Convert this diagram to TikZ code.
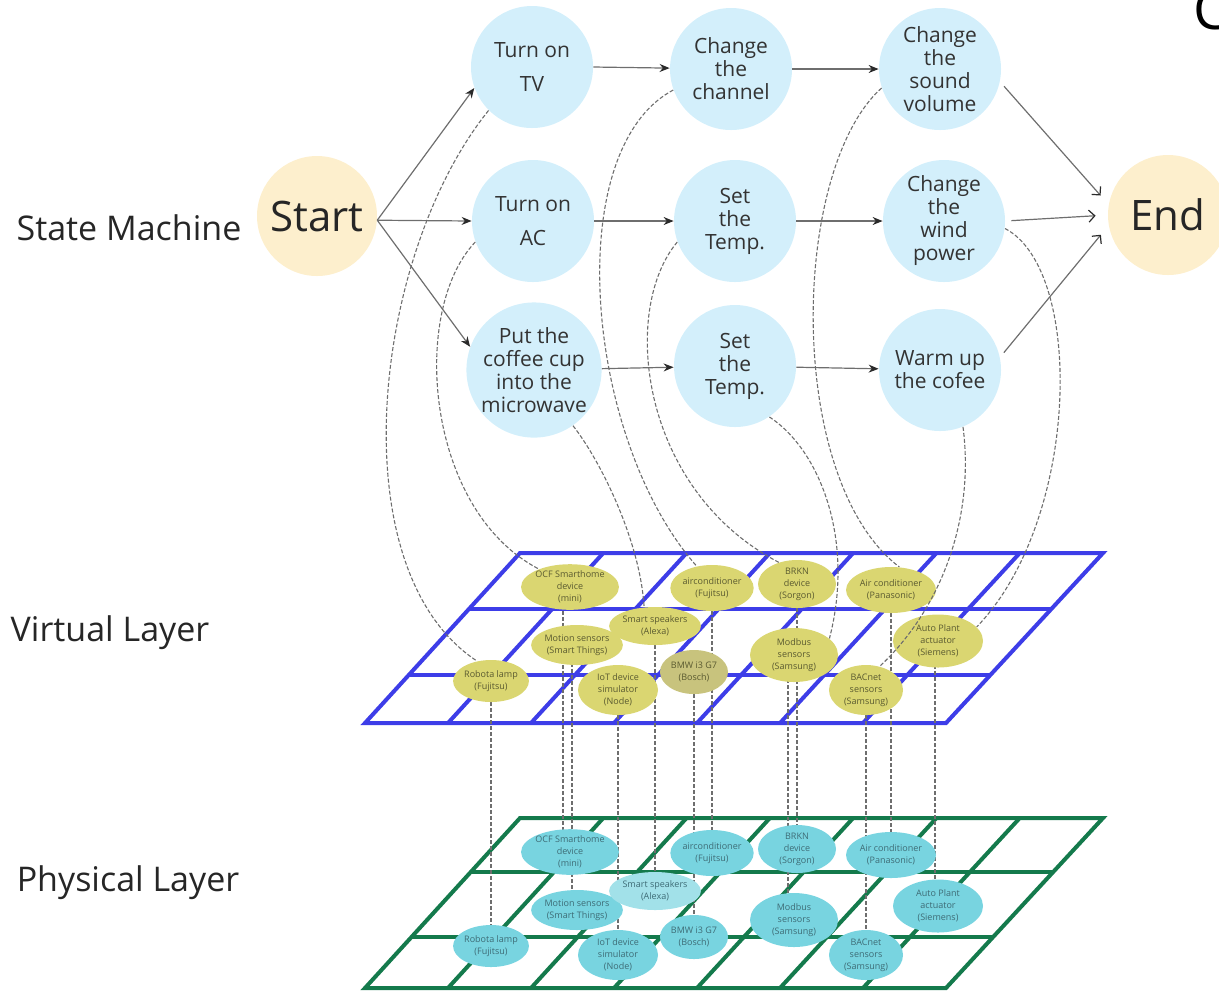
\documentclass[tikz,border=0pt]{standalone}
\usepackage{fontspec}
\setmainfont{Open Sans}
\usetikzlibrary{shapes.geometric,arrows.meta}
\pgfdeclarelayer{gridlayer}
\pgfdeclarelayer{linklayer}
\pgfsetlayers{gridlayer,linklayer,main}
\definecolor{stateblue}{HTML}{D3EFFB}
\definecolor{peach}{HTML}{FDEFCD}
\definecolor{vfill}{HTML}{DAD671}
\definecolor{vfillB}{HTML}{C8C37D}
\definecolor{pfill}{HTML}{78D4E0}
\definecolor{pfillL}{HTML}{A2E1E9}
\definecolor{vgrid}{HTML}{3D3DE8}
\definecolor{pgrid}{HTML}{147A4C}
\definecolor{linkgray}{HTML}{6E6E6E}
\definecolor{tipdark}{HTML}{2A2A2A}
\definecolor{vtext}{HTML}{5A5A30}
\definecolor{ptext}{HTML}{3E6C76}
\begin{document}
\begin{tikzpicture}[x=0.5pt,y=-0.5pt,
  state/.style={circle, fill=stateblue, minimum size=61pt, inner sep=0pt, align=center,
    font=\fontsize{10.5}{11.5}\selectfont, text=black!80},
  term/.style={circle, fill=peach, minimum size=60pt, inner sep=0pt, text=black!85,
    font=\fontsize{21}{24}\selectfont},
  dev/.style={ellipse, inner sep=0pt, align=center, font=\fontsize{4.5}{6}\selectfont},
  vdev/.style={dev, fill=vfill, text=vtext},
  pdev/.style={dev, fill=pfill, text=ptext},
  flow/.style={draw=linkgray, line width=0.6pt, -{Stealth[length=5pt,width=4pt,color=tipdark]}},
  toend/.style={draw=linkgray, line width=0.6pt, -{Straight Barb[length=3pt,width=6pt,color=tipdark]},
    shorten >=6pt, shorten <=3pt},
  link/.style={draw=linkgray, line width=0.55pt, dash pattern=on 2pt off 1pt},
  vgridline/.style={draw=vgrid, line width=2pt, line join=miter},
  pgridline/.style={draw=pgrid, line width=2pt, line join=miter},
  layerlabel/.style={font=\fontsize{17}{20}\selectfont, text=black!85}
]
\useasboundingbox (0,0) rectangle (1219,993);

% ---------- layer labels ----------
\node[layerlabel] (lsm) at (129,228) {State Machine};
\node[layerlabel] (lvl) at (110,633) {Virtual Layer};
\node[layerlabel] (lpl) at (128,883) {Physical Layer};
\node[font=\fontsize{28}{30}\selectfont, anchor=base west, inner sep=0pt] (cut) at (1193,29) {C};

% ---------- state machine ----------
\node[term] (start) at (317,216) {Start};
\node[term] (fin) at (1168,215) {End};
\node[state, font=\fontsize{10.5}{17}\selectfont] (tv) at (532,67) {Turn on\\TV};
\node[state] (ch) at (731,69) {Change\\the\\channel};
\node[state] (snd) at (940,69) {Change\\the\\sound\\volume};
\node[state, font=\fontsize{10.5}{17}\selectfont] (ac) at (533,221) {Turn on\\AC};
\node[state] (st2) at (735,221) {Set\\the\\Temp.};
\node[state] (wnd) at (944,221) {Change\\the\\wind\\power};
\node[state, minimum size=62pt] (cof) at (534,370) {Put the\\coffee cup\\into the\\microwave};
\node[state] (st3) at (735,366) {Set\\the\\Temp.};
\node[state] (wrm) at (940,370) {Warm up\\the cofee};

% ---------- grids ----------
\begin{pgfonlayer}{gridlayer}
  \draw[vgridline] (520,553) -- (1103,553) -- (946,723) -- (365,723) -- cycle;
  \foreach \k in {1,...,6} {\draw[vgridline] ({520+\k*83.29},553) -- ({365+\k*83.0},723);}
  \foreach \y in {609,675} {\draw[vgridline] ({520-(\y-553)*0.9118},\y) -- ({1103-(\y-553)*0.9235},\y);}
  \draw[pgridline] (520,818) -- (1103,818) -- (946,988) -- (365,988) -- cycle;
  \foreach \k in {1,...,6} {\draw[pgridline] ({520+\k*83.29},818) -- ({365+\k*83.0},988);}
  \foreach \y in {872,937} {\draw[pgridline] ({520-(\y-818)*0.9118},\y) -- ({1103-(\y-818)*0.9235},\y);}
\end{pgfonlayer}

% ---------- virtual layer devices ----------
\node[vdev, minimum width=43pt, minimum height=20pt] (v1) at (570,587) {OCF Smarthome\\device\\(mini)};
\node[vdev, minimum width=40pt, minimum height=23pt] (v2) at (712,588) {airconditioner\\(Fujitsu)};
\node[vdev, minimum width=39pt, minimum height=24pt] (v3) at (797,584) {BRKN\\device\\(Sorgon)};
\node[vdev, minimum width=45pt, minimum height=23pt] (v4) at (891,590) {Air conditioner\\(Panasonic)};
\node[vdev, minimum width=43.5pt, minimum height=20pt] (v6) at (577,645) {Motion sensors\\(Smart Things)};
\node[vdev, minimum width=40pt, minimum height=19pt] (v5) at (655,626) {Smart speakers\\(Alexa)};
\node[vdev, minimum width=44pt, minimum height=27pt] (v7) at (794,655) {Modbus\\sensors\\(Samsung)};
\node[vdev, minimum width=45pt, minimum height=26.5pt] (v8) at (938,641) {Auto Plant\\actuator\\(Siemens)};
\node[vdev, minimum width=36pt, minimum height=21pt] (v9) at (491,681) {Robota lamp\\(Fujitsu)};
\node[vdev, minimum width=40pt, minimum height=25pt] (v10) at (618,690) {IoT device\\simulator\\(Node)};
\node[vdev, fill=vfillB, minimum width=34pt, minimum height=22pt] (v11) at (694,672) {BMW i3 G7\\(Bosch)};
\node[vdev, minimum width=37pt, minimum height=25pt] (v12) at (866,690) {BACnet\\sensors\\(Samsung)};

% ---------- physical layer devices ----------
\node[pdev, minimum width=43pt, minimum height=20pt] (p1) at (570,852) {OCF Smarthome\\device\\(mini)};
\node[pdev, minimum width=40pt, minimum height=23pt] (p2) at (712,853) {airconditioner\\(Fujitsu)};
\node[pdev, minimum width=39pt, minimum height=24pt] (p3) at (797,849) {BRKN\\device\\(Sorgon)};
\node[pdev, minimum width=45pt, minimum height=23pt] (p4) at (891,855) {Air conditioner\\(Panasonic)};
\node[pdev, minimum width=43.5pt, minimum height=20pt] (p6) at (577,910) {Motion sensors\\(Smart Things)};
\node[pdev, fill=pfillL, minimum width=40pt, minimum height=19pt] (p5) at (655,891) {Smart speakers\\(Alexa)};
\node[pdev, minimum width=44pt, minimum height=27pt] (p7) at (794,920) {Modbus\\sensors\\(Samsung)};
\node[pdev, minimum width=45pt, minimum height=26.5pt] (p8) at (938,906) {Auto Plant\\actuator\\(Siemens)};
\node[pdev, minimum width=36pt, minimum height=21pt] (p9) at (491,946) {Robota lamp\\(Fujitsu)};
\node[pdev, minimum width=40pt, minimum height=25pt] (p10) at (618,955) {IoT device\\simulator\\(Node)};
\node[pdev, minimum width=34pt, minimum height=22pt] (p11) at (694,937) {BMW i3 G7\\(Bosch)};
\node[pdev, minimum width=37pt, minimum height=25pt] (p12) at (866,955) {BACnet\\sensors\\(Samsung)};

% ---------- state machine transitions ----------
\draw[flow] (start.-4) -- (tv.200);
\draw[flow] (start.-4) -- (ac.west);
\draw[flow] (start.-4) -- (cof.160);
\draw[flow] (tv.east) -- (ch);
\draw[flow] (ch) -- (snd);
\draw[flow] (ac) -- (st2);
\draw[flow] (st2) -- (wnd);
\draw[flow] (cof) -- (st3);
\draw[flow] (st3) -- (wrm);
\draw[toend] (snd.-12) -- (fin.170);
\draw[toend] (wnd.east) -- (fin.west);
\draw[toend] (wrm.12) -- (fin.190);

% ---------- mapping links ----------
\begin{pgfonlayer}{linklayer}
  \draw[link] ([xshift=-3.5pt]v1.center) -- ([xshift=-3.5pt]p1.center);
  \draw[link] (v2) -- (p2);
  \draw[link] (v3) -- (p3);
  \draw[link] (v4) -- (p4);
  \draw[link] (v5) -- (p5);
  \draw[link] ([xshift=-2.5pt]v6.center) -- ([xshift=-2.5pt]p6.center);
  \draw[link] ([xshift=-3pt]v7.center) -- ([xshift=-3pt]p7.center);
  \draw[link] ([xshift=-1.5pt]v8.center) -- ([xshift=-1.5pt]p8.center);
  \draw[link] (v9) -- (p9);
  \draw[link] (v10) -- (p10);
  \draw[link] (v11) -- (p11);
  \draw[link] (v12) -- (p12);
  \draw[link] (tv.225) .. controls (372,255) and (338,570) .. (v9.125);
  \draw[link] (ac.200) .. controls (410,310) and (425,510) .. (v1.150);
  \draw[link] (cof.305) .. controls (600,460) and (640,540) .. (v5.120);
  \draw[link] (ch.200) .. controls (560,150) and (585,440) .. (v2.125);
  \draw[link] (st2.200) .. controls (620,310) and (640,490) .. (v3.130);
  \draw[link] (st3.304) .. controls (820,450) and (855,540) .. (v7.25);
  \draw[link] (snd.198) .. controls (790,170) and (785,480) .. (v4.70);
  \draw[link] (wnd.353) .. controls (1085,270) and (1080,520) .. (v8.20);
\end{pgfonlayer}
\draw[link] (wrm.292) .. controls (975,520) and (940,610) .. (v12.60);
\end{tikzpicture}
\end{document}
